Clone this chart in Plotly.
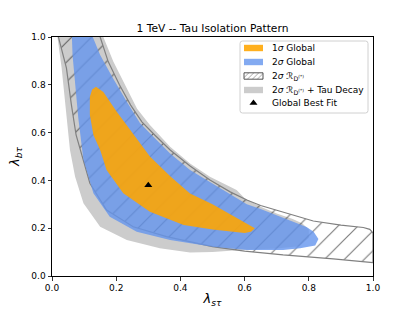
import plotly.graph_objects as go

# ---- data ----
# 2 sigma R_D(*) + Tau Decay (gray band)
gray_x = [0.148, 0.16, 0.191, 0.227, 0.265, 0.305, 0.368, 0.43, 0.492, 0.575, 0.6, 0.65, 0.7, 0.75, 0.78, 0.8, 0.8, 0.77,
          0.7, 0.6, 0.55, 0.5, 0.43, 0.336, 0.233, 0.15, 0.098, 0.072, 0.056, 0.051, 0.04, 0.03, 0.017, 0.012]
gray_y = [1.05, 1.0, 0.897, 0.8, 0.7, 0.632, 0.541, 0.471, 0.415, 0.36, 0.325, 0.29, 0.262, 0.238, 0.22, 0.195, 0.16, 0.125,
          0.115, 0.11, 0.105, 0.1, 0.098, 0.116, 0.151, 0.206, 0.304, 0.415, 0.527, 0.59, 0.73, 0.87, 1.0, 1.05]

# 2 sigma R_D(*) (hatched band)
hatch_x = [0.143, 0.15, 0.175, 0.21, 0.245, 0.28, 0.32, 0.368, 0.43, 0.492, 0.555, 0.607, 0.65, 0.72, 0.814, 0.9, 0.97,
           0.99, 1.0, 1.0, 0.876, 0.72, 0.6, 0.5, 0.43, 0.357, 0.253, 0.17, 0.118, 0.09, 0.075, 0.06, 0.045, 0.02, 0.015]
hatch_y = [1.05, 1.0, 0.897, 0.8, 0.715, 0.645, 0.59, 0.527, 0.46, 0.402, 0.352, 0.318, 0.295, 0.267, 0.23, 0.213, 0.203,
           0.195, 0.18, 0.056, 0.072, 0.088, 0.104, 0.123, 0.142, 0.165, 0.206, 0.276, 0.388, 0.513, 0.59, 0.72, 0.87, 1.0, 1.05]

# 2 sigma Global (blue)
blue_x = [0.128, 0.127, 0.15, 0.19, 0.235, 0.274, 0.305, 0.368, 0.43, 0.495, 0.555, 0.607, 0.65, 0.72, 0.793, 0.815, 0.83,
          0.82, 0.773, 0.72, 0.607, 0.5, 0.43, 0.368, 0.264, 0.18, 0.129, 0.098, 0.082, 0.072, 0.064, 0.062, 0.06]
blue_y = [1.05, 1.0, 0.925, 0.827, 0.725, 0.64, 0.597, 0.513, 0.443, 0.39, 0.339, 0.3, 0.28, 0.243, 0.205, 0.185, 0.155,
          0.128, 0.116, 0.109, 0.109, 0.122, 0.137, 0.151, 0.185, 0.248, 0.346, 0.485, 0.66, 0.8, 0.925, 1.0, 1.05]

# 1 sigma Global (orange)
orange_x = [0.137, 0.16, 0.2, 0.25, 0.305, 0.37, 0.43, 0.5, 0.585, 0.62, 0.632, 0.62, 0.6, 0.5, 0.41, 0.305, 0.222, 0.17,
            0.15, 0.129, 0.118, 0.118, 0.125, 0.137]
orange_y = [0.792, 0.77, 0.69, 0.6, 0.5, 0.415, 0.345, 0.3, 0.235, 0.21, 0.2, 0.185, 0.18, 0.195, 0.213, 0.269, 0.346, 0.444,
            0.527, 0.59, 0.674, 0.75, 0.78, 0.792]

best_x = [0.30]
best_y = [0.38]

tick_vals = [0.0, 0.2, 0.4, 0.6, 0.8, 1.0]
tick_text = ["0.0", "0.2", "0.4", "0.6", "0.8", "1.0"]

legend_labels = ["1<i>σ</i> Global", "2<i>σ</i> Global", "2<i>σ</i> ℛ<sub>D<sup>(*)</sup></sub>",
                 "2<i>σ</i> ℛ<sub>D<sup>(*)</sup></sub> + Tau Decay", "Global Best Fit"]

FONT = "DejaVu Sans"
GRAY = "#cccccc"
BLUE = "rgba(100,149,237,0.8)"
ORANGE = "rgba(255,165,0,0.88)"

fig = go.Figure()

fig.add_trace(go.Scatter(
    x=gray_x, y=gray_y, mode="lines", fill="toself", line=dict(width=0, color=GRAY),
    fillcolor=GRAY, name=legend_labels[3], showlegend=False, hoverinfo="skip"))

fig.add_trace(go.Scatter(
    x=hatch_x, y=hatch_y, mode="lines", fill="toself", line=dict(width=1.2, color="#808080"),
    fillcolor="rgba(0,0,0,0)",
    fillpattern=dict(shape="/", fgcolor="black", bgcolor="rgba(0,0,0,0)", size=14, solidity=0.085),
    name=legend_labels[2], showlegend=False, hoverinfo="skip"))

fig.add_trace(go.Scatter(
    x=blue_x, y=blue_y, mode="lines", fill="toself", line=dict(width=0, color=BLUE),
    fillcolor=BLUE, name=legend_labels[1], showlegend=False, hoverinfo="skip"))

fig.add_trace(go.Scatter(
    x=orange_x, y=orange_y, mode="lines", fill="toself", line=dict(width=0, color=ORANGE),
    fillcolor=ORANGE, name=legend_labels[0], showlegend=False, hoverinfo="skip"))

fig.add_trace(go.Scatter(
    x=best_x, y=best_y, mode="markers", marker=dict(symbol="triangle-up", size=7, color="black"),
    name=legend_labels[4], showlegend=False, hoverinfo="skip"))

# ---- hand-made legend on an overlay axis measured in pixels ----
LX0, LX1, LY0, LY1 = 240, 368, 41, 113
R = 2.5
PX0, PX1 = 244, 263
ROW_Y = [48, 62, 76, 90, 103]
PH = 3.2

box_path = (f"M{LX0 + R},{LY0} L{LX1 - R},{LY0} Q{LX1},{LY0} {LX1},{LY0 + R} L{LX1},{LY1 - R} "
            f"Q{LX1},{LY1} {LX1 - R},{LY1} L{LX0 + R},{LY1} Q{LX0},{LY1} {LX0},{LY1 - R} "
            f"L{LX0},{LY0 + R} Q{LX0},{LY0} {LX0 + R},{LY0} Z")
fig.add_shape(type="path", xref="x2", yref="y2", path=box_path,
              fillcolor="rgba(255,255,255,0.8)", line=dict(color="#d0d0d0", width=1), layer="below")
for cy, col in [(ROW_Y[0], ORANGE), (ROW_Y[1], BLUE), (ROW_Y[3], GRAY)]:
    fig.add_shape(type="rect", xref="x2", yref="y2", x0=PX0, x1=PX1, y0=cy - PH, y1=cy + PH,
                  fillcolor=col, line=dict(width=0), layer="above")
fig.add_trace(go.Scatter(
    x=[PX0, PX1, PX1, PX0, PX0], y=[ROW_Y[2] - PH, ROW_Y[2] - PH, ROW_Y[2] + PH, ROW_Y[2] + PH, ROW_Y[2] - PH],
    xaxis="x2", yaxis="y2", mode="lines", fill="toself", line=dict(width=1, color="#555555"),
    fillcolor="rgba(0,0,0,0)",
    fillpattern=dict(shape="/", fgcolor="#333333", bgcolor="rgba(0,0,0,0)", size=3.5, solidity=0.25),
    showlegend=False, hoverinfo="skip"))
fig.add_trace(go.Scatter(
    x=[(PX0 + PX1) / 2], y=[ROW_Y[4]], xaxis="x2", yaxis="y2", mode="markers",
    marker=dict(symbol="triangle-up", size=7, color="black"), showlegend=False, hoverinfo="skip"))
for cy, lab in zip(ROW_Y, legend_labels):
    fig.add_annotation(x=270, y=cy, xref="x2", yref="y2", text=lab, showarrow=False, xanchor="left",
                       yanchor="middle", font=dict(family=FONT, size=9, color="black"))

axis_common = dict(
    range=[0, 1], tickvals=tick_vals, ticktext=tick_text, showline=True, mirror=True, linecolor="black",
    linewidth=1, ticks="outside", ticklen=3.5, tickwidth=0.8, tickcolor="black", showgrid=False, zeroline=False,
    automargin=False, tickfont=dict(family=FONT, size=9, color="black"))

fig.update_layout(
    width=415, height=311,
    margin=dict(l=52, r=42, t=37, b=35, autoexpand=False),
    paper_bgcolor="white", plot_bgcolor="white",
    title=dict(text="1 TeV -- Tau Isolation Pattern", x=0.512, xanchor="center", y=0.91, yanchor="middle",
               yref="container", font=dict(family=FONT, size=10.7, color="black")),
    xaxis=dict(axis_common, title=dict(text="<i>λ</i><sub><i>sτ</i></sub>",
                                       font=dict(family=FONT, size=13, color="black"), standoff=1)),
    yaxis=dict(axis_common, title=dict(text="<i>λ</i><sub><i>bτ</i></sub>",
                                       font=dict(family=FONT, size=13, color="black"), standoff=8)),
    xaxis2=dict(overlaying="x", range=[52, 373], visible=False, fixedrange=True),
    yaxis2=dict(overlaying="y", range=[276, 37], visible=False, fixedrange=True),
    showlegend=False,
)

fig.write_html("out.html", config={"displayModeBar": False, "staticPlot": True},
               post_script="document.body.style.margin='0px';")
